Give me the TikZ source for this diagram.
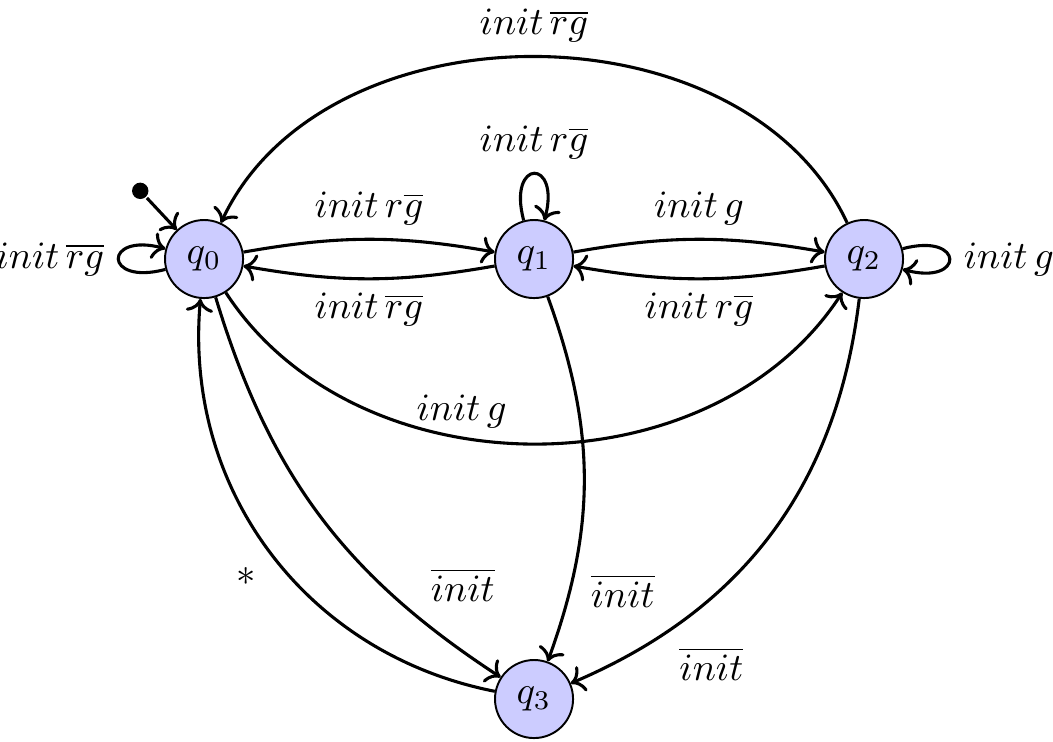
\documentclass[tikz,border=0pt]{standalone}
\usepackage{amsmath,amssymb}
\usepackage{tikz}
\usetikzlibrary{arrows.meta, positioning}

\begin{document}
\begin{tikzpicture}[auto, thick,
  qstate/.style={circle, draw, line width=0.5pt, fill=blue!20},
  trans/.style={->}]
  \useasboundingbox (-1.855,-4.382) rectangle (7.718,2.355);

  % States
  \node[qstate] (q0) at (0,0) {$q_0$};
  \node[qstate] (q1) at (3,0) {$q_1$};
  \node[qstate] (q2) at (6,0) {$q_2$};
  \node[qstate] (q3) at (3,-4) {$q_3$};

  % Initial marker
  \node[circle, fill, inner sep=1.5pt] (start) at (-0.58,0.62) {};
  \draw[trans] (start) -- (q0);

  % Loops
  \draw[trans] (q0) to[loop left] node {$init\,\overline{rg}$} (q0);
  \draw[trans] (q1) to[loop above] node {$init\,r\overline{g}$} (q1);
  \draw[trans] (q2) to[loop right] node {$init\,g$} (q2);

  % Top row
  \draw[trans] (q0) to[bend left=10] node {$init\,r\overline{g}$} (q1);
  \draw[trans] (q1) to[bend left=10] node {$init\,\overline{rg}$} (q0);
  \draw[trans] (q1) to[bend left=10] node {$init\,g$} (q2);
  \draw[trans] (q2) to[bend left=10] node {$init\,r\overline{g}$} (q1);

  % Long arcs
  \draw[trans] (q2) to[bend right=65] node[swap] {$init\,\overline{rg}$} (q0);
  \draw[trans] (q0) to[bend right=57] node[pos=0.4, anchor=south, inner sep=2pt] {$init\,g$} (q2);

  % Down to q3
  \draw[trans] (q0) to[bend right=20] node[pos=0.8] {$\overline{init}$} (q3);
  \draw[trans] (q1) to[bend left=20] node[pos=0.73] {$\overline{init}$} (q3);
  \draw[trans] (q2) to[bend left=30] node[pos=0.8] {$\overline{init}$} (q3);
  \draw[trans] (q3) to[bend left=42] node {$*$} (q0);
\end{tikzpicture}
\end{document}
